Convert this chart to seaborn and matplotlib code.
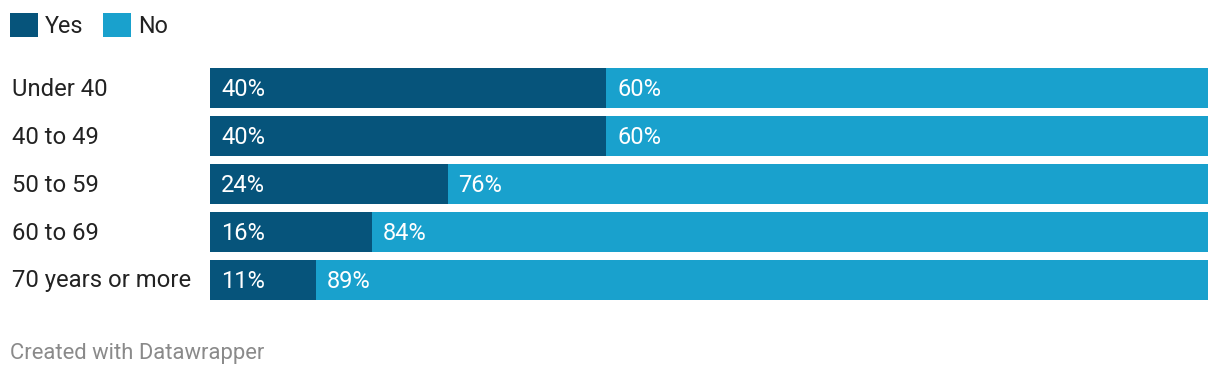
import matplotlib
matplotlib.use("Agg")
import matplotlib.pyplot as plt
import matplotlib.transforms as mtransforms
from matplotlib.patches import Patch
import seaborn as sns
import pandas as pd

# Dados (partes; rótulos arredondados como no original)
faixas = ["Under 40", "40 to 49", "50 to 59", "60 to 69", "70 years or more"]
sim = [39.7, 39.7, 23.8, 16.2, 10.6]
nao = [60.3, 60.3, 76.2, 83.8, 89.4]
rot_sim = ["40%", "40%", "24%", "16%", "11%"]
rot_nao = ["60%", "60%", "76%", "84%", "89%"]

cor_sim = "#06547b"
cor_nao = "#19a1cd"

df = pd.DataFrame({"faixa": faixas, "Yes": sim, "No": nao})
df["total"] = df["Yes"] + df["No"]

sns.set_style("white")
plt.rcParams["font.family"] = ["Roboto", "DejaVu Sans"]

W, H = 1220, 378
fig = plt.figure(figsize=(W / 100, H / 100), dpi=100)
ax = fig.add_axes([210 / W, (H - 300) / H, (1208 - 210) / W, (300 - 68) / H])

altura = 40 / 48
# Barra total (No) por baixo, Yes por cima
sns.barplot(data=df, x="total", y="faixa", color=cor_nao, width=altura,
            saturation=1, ax=ax, edgecolor="none", linewidth=0)
sns.barplot(data=df, x="Yes", y="faixa", color=cor_sim, width=altura,
            saturation=1, ax=ax, edgecolor="none", linewidth=0)

ax.set_xlim(0, 100)
ax.set_ylim(len(faixas) - 1 + altura / 2, -altura / 2)
ax.axis("off")

# Rótulos dentro das barras
off = mtransforms.offset_copy(ax.transData, fig=fig, x=11, y=-1, units="dots")
for i, s in enumerate(sim):
    ax.text(0, i, rot_sim[i], transform=off, color="white", fontsize=17,
            ha="left", va="center")
    ax.text(s, i, rot_nao[i], transform=off, color="white", fontsize=17,
            ha="left", va="center")

# Categorias à esquerda
trans = mtransforms.blended_transform_factory(fig.transFigure, ax.transData)
trans = trans + mtransforms.ScaledTranslation(0, -1 / 100, fig.dpi_scale_trans)
for i, f in enumerate(faixas):
    ax.text(12 / W, i, f, transform=trans, color="#222222", fontsize=17.2,
            ha="left", va="center")

# Legenda
handles = [Patch(facecolor=cor_sim, edgecolor="none", label="Yes"),
           Patch(facecolor=cor_nao, edgecolor="none", label="No")]
fig.legend(handles=handles, loc="upper left", bbox_to_anchor=(10 / W, 1 - 13 / H),
           ncol=2, frameon=False, fontsize=16.8, handlelength=1.2, handleheight=1.2,
           handletextpad=0.3, columnspacing=0.85, borderpad=0, borderaxespad=0,
           labelcolor="#222222")

# Rodapé
fig.text(10 / W, 1 - 353 / H, "Created with Datawrapper", color="#8a8a8a",
         fontsize=15.8, ha="left", va="center")

fig.savefig("out.png", dpi=100)
